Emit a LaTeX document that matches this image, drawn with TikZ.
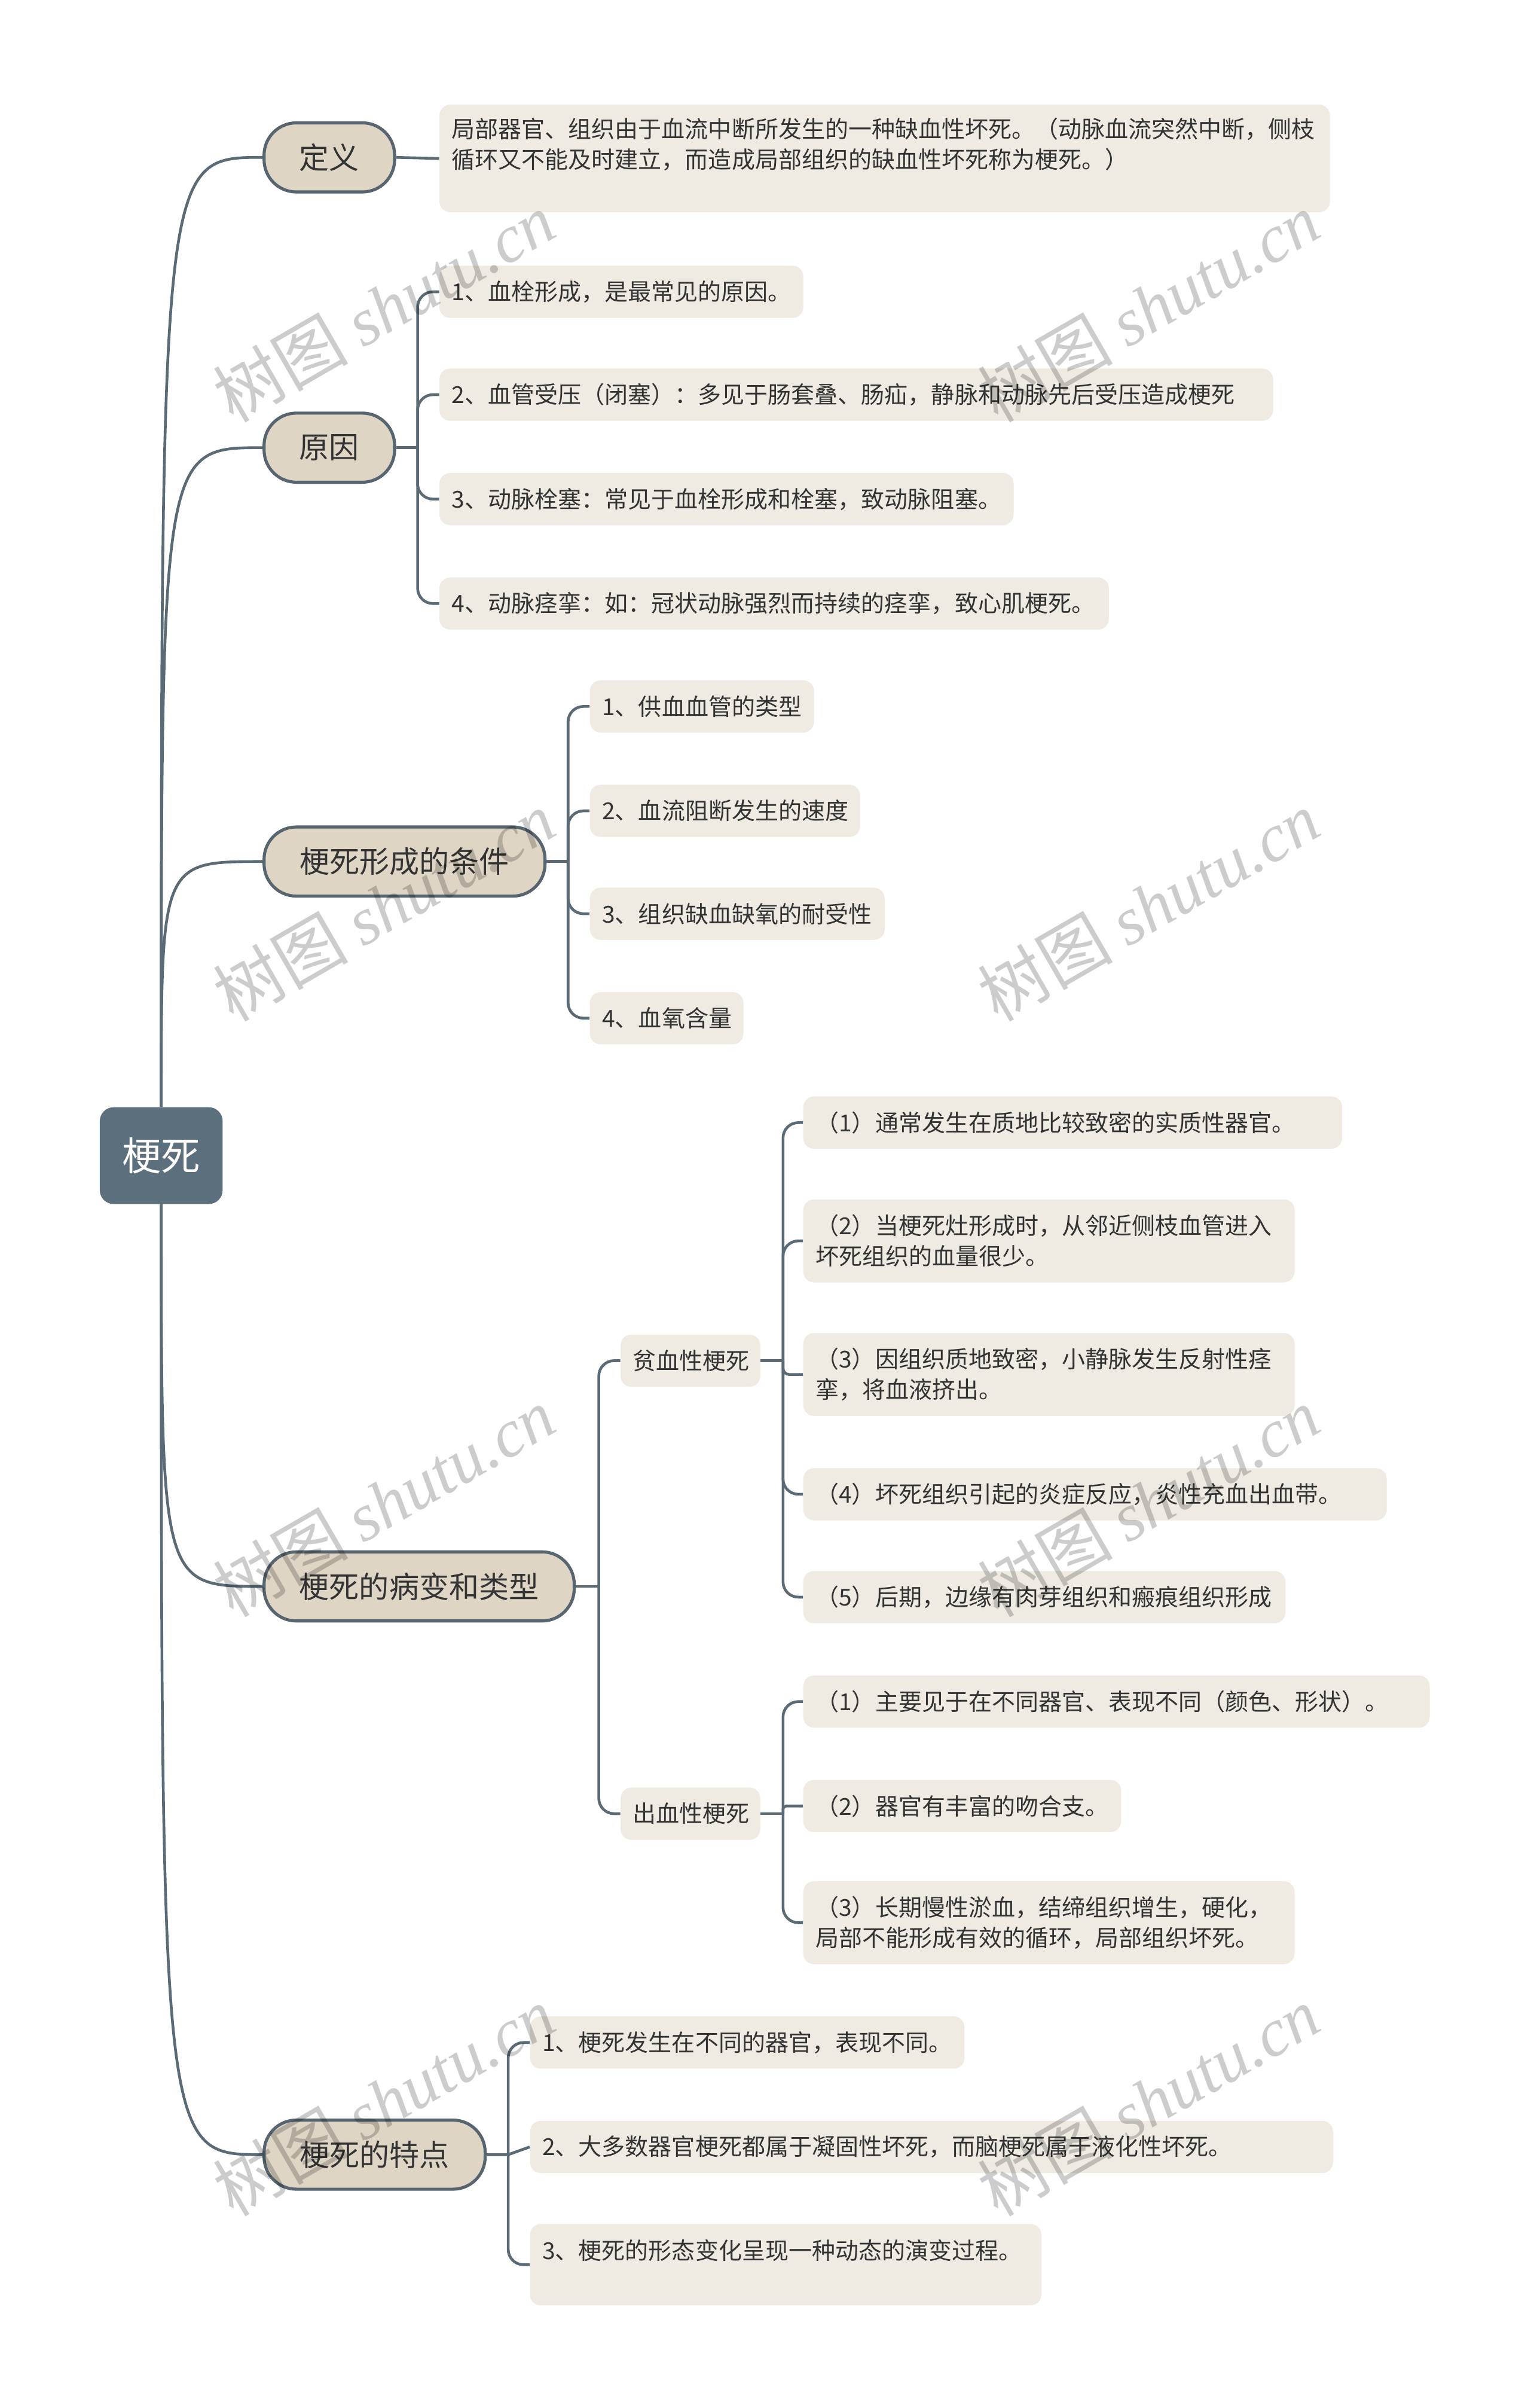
\documentclass[tikz,border=0pt]{standalone}
\usepackage{fontspec}
\setmainfont{Noto Sans CJK SC}
\newfontfamily\wmcjk{Noto Sans CJK SC}
\newfontfamily\wmlatin{Liberation Serif}
\definecolor{linec}{HTML}{5B6B76}
\definecolor{rootc}{HTML}{5C6F7C}
\definecolor{mainc}{HTML}{DED5C5}
\definecolor{mainb}{HTML}{56656F}
\definecolor{leafc}{HTML}{EFEBE3}
\definecolor{txt}{HTML}{333333}
\newcommand\leaffont{\fontsize{15.2pt}{20pt}\selectfont}
\newcommand\mainfont{\fontsize{19.5pt}{24pt}\selectfont}
\newcommand\rootfont{\fontsize{25.5pt}{30pt}\selectfont}
\newcommand\wmtext{{\wmcjk 树图} {\wmlatin\itshape shutu.cn}}
\begin{document}
\begin{tikzpicture}[x=1pt,y=-1pt,
  conn/.style={draw=linec, line width=1.8pt},
  rootnode/.style={fill=rootc, rounded corners=9pt, minimum width=80pt, minimum height=63pt, inner sep=0pt, font=\rootfont, text=white},
  mainnode/.style={fill=mainc, draw=mainb, line width=2pt, rounded corners=21pt, minimum height=45pt, inner xsep=0pt, inner ysep=0pt, font=\mainfont, text=txt},
  leaf/.style={fill=leafc, rounded corners=7pt, inner xsep=8pt, inner ysep=0pt, font=\leaffont, text=txt, align=left, anchor=west, minimum height=34pt},
  wm/.style={rotate=30, text=black, text opacity=0.2, font=\fontsize{44pt}{50pt}\selectfont}
]
\useasboundingbox (0,0) rectangle (997,1568);
\fill[white] (0,0) rectangle (997,1568);

% root and main topics
\node[rootnode] (root) at (105,752.5) {梗死};
\node[mainnode, minimum width=85pt] (m1) at (214.5,102.5) {定义};
\node[mainnode, minimum width=85pt] (m2) at (214.5,291.5) {原因};
\node[mainnode, minimum width=183pt] (m3) at (263.5,561) {梗死形成的条件};
\node[mainnode, minimum width=202pt] (m4) at (273,1033) {梗死的病变和类型};
\node[mainnode, minimum width=144pt] (m5) at (244,1403) {梗死的特点};

% definition
\node[leaf, anchor=north west, text width=564pt, minimum height=70pt] (d1) at (286,68) {局部器官、组织由于血流中断所发生的一种缺血性坏死。（动脉血流突然中断，侧枝\\循环又不能及时建立，而造成局部组织的缺血性坏死称为梗死。）\\ \mbox{}};

% causes
\node[leaf, text width=221pt] (r1) at (286,190) {1、血栓形成，是最常见的原因。};
\node[leaf, text width=527pt] (r2) at (286,257) {2、血管受压（闭塞）：多见于肠套叠、肠疝，静脉和动脉先后受压造成梗死};
\node[leaf, text width=358pt] (r3) at (286,325) {3、动脉栓塞：常见于血栓形成和栓塞，致动脉阻塞。};
\node[leaf, text width=420pt] (r4) at (286,393) {4、动脉痉挛：如：冠状动脉强烈而持续的痉挛，致心肌梗死。};

% conditions
\node[leaf, text width=130pt] (c1) at (384,460) {1、供血血管的类型};
\node[leaf, text width=160pt] (c2) at (384,528) {2、血流阻断发生的速度};
\node[leaf, text width=176pt] (c3) at (384,595) {3、组织缺血缺氧的耐受性};
\node[leaf, text width=84pt] (c4) at (384,663) {4、血氧含量};

% types
\node[leaf, text width=75pt] (s1) at (404,886) {贫血性梗死};
\node[leaf, text width=75pt] (s2) at (404,1181) {出血性梗死};

\node[leaf, text width=335pt] (a1) at (523,731) {（1）通常发生在质地比较致密的实质性器官。};
\node[leaf, text width=304pt, minimum height=54pt] (a2) at (523,808) {（2）当梗死灶形成时，从邻近侧枝血管进入\\坏死组织的血量很少。};
\node[leaf, text width=304pt, minimum height=54pt] (a3) at (523,895) {（3）因组织质地致密，小静脉发生反射性痉\\挛，将血液挤出。};
\node[leaf, text width=364pt] (a4) at (523,973) {（4）坏死组织引起的炎症反应，炎性充血出血带。};
\node[leaf, text width=298pt] (a5) at (523,1040) {（5）后期，边缘有肉芽组织和瘢痕组织形成};

\node[leaf, text width=392pt] (b1) at (523,1108) {（1）主要见于在不同器官、表现不同（颜色、形状）。};
\node[leaf, text width=191pt] (b2) at (523,1176) {（2）器官有丰富的吻合支。};
\node[leaf, text width=304pt, minimum height=54pt] (b3) at (523,1252) {（3）长期慢性淤血，结缔组织增生，硬化，\\局部不能形成有效的循环，局部组织坏死。};

% features
\node[leaf, text width=267pt] (t1) at (345,1330) {1、梗死发生在不同的器官，表现不同。};
\node[leaf, text width=507pt] (t2) at (345,1398) {2、大多数器官梗死都属于凝固性坏死，而脑梗死属于液化性坏死。};
\node[leaf, anchor=north west, text width=317pt, minimum height=53pt] (t3) at (345,1448) {3、梗死的形态变化呈现一种动态的演变过程。\\ \mbox{}};

% connectors root -> main
\draw[conn] (root.north) .. controls (105,102.5) .. (m1.west);
\draw[conn] (root.north) .. controls (105,291.5) .. (m2.west);
\draw[conn] (root.north) .. controls (105,561) .. (m3.west);
\draw[conn] (root.south) .. controls (105,1033) .. (m4.west);
\draw[conn] (root.south) .. controls (105,1403) .. (m5.west);

% definition
\draw[conn] (m1.east) -- (d1.west);

% hubs
\coordinate (h2) at (272,291.5);
\coordinate (h3) at (370,561);
\coordinate (h4) at (390,1033);
\coordinate (hs1) at (510,886);
\coordinate (hs2) at (510,1181);
\coordinate (h5) at (331,1403);

\draw[conn] (m2.east) -- (h2);
\foreach \n in {r1,r2,r3,r4} \draw[conn, rounded corners=10pt] (h2) |- (\n.west);

\draw[conn] (m3.east) -- (h3);
\foreach \n in {c1,c2,c3,c4} \draw[conn, rounded corners=10pt] (h3) |- (\n.west);

\draw[conn] (m4.east) -- (h4);
\foreach \n in {s1,s2} \draw[conn, rounded corners=10pt] (h4) |- (\n.west);

\draw[conn] (s1.east) -- (hs1);
\foreach \n in {a1,a2,a4,a5} \draw[conn, rounded corners=10pt] (hs1) |- (\n.west);
\draw[conn, rounded corners=4pt] (hs1) |- (a3.west);

\draw[conn] (s2.east) -- (hs2);
\foreach \n in {b1,b3} \draw[conn, rounded corners=10pt] (hs2) |- (\n.west);
\draw[conn, rounded corners=2pt] (hs2) |- (b2.west);

\draw[conn] (m5.east) -- (h5);
\foreach \n in {t1,t3} \draw[conn, rounded corners=10pt] (h5) |- (\n.west);
\draw[conn] (h5) -- (t2.west);

% watermarks
\node[wm] (w1) at (250,200) {\wmtext};
\node[wm] (w2) at (748,200) {\wmtext};
\node[wm] (w3) at (250,590) {\wmtext};
\node[wm] (w4) at (748,590) {\wmtext};
\node[wm] (w5) at (250,978) {\wmtext};
\node[wm] (w6) at (748,978) {\wmtext};
\node[wm] (w7) at (250,1368) {\wmtext};
\node[wm] (w8) at (748,1368) {\wmtext};
\end{tikzpicture}
\end{document}
